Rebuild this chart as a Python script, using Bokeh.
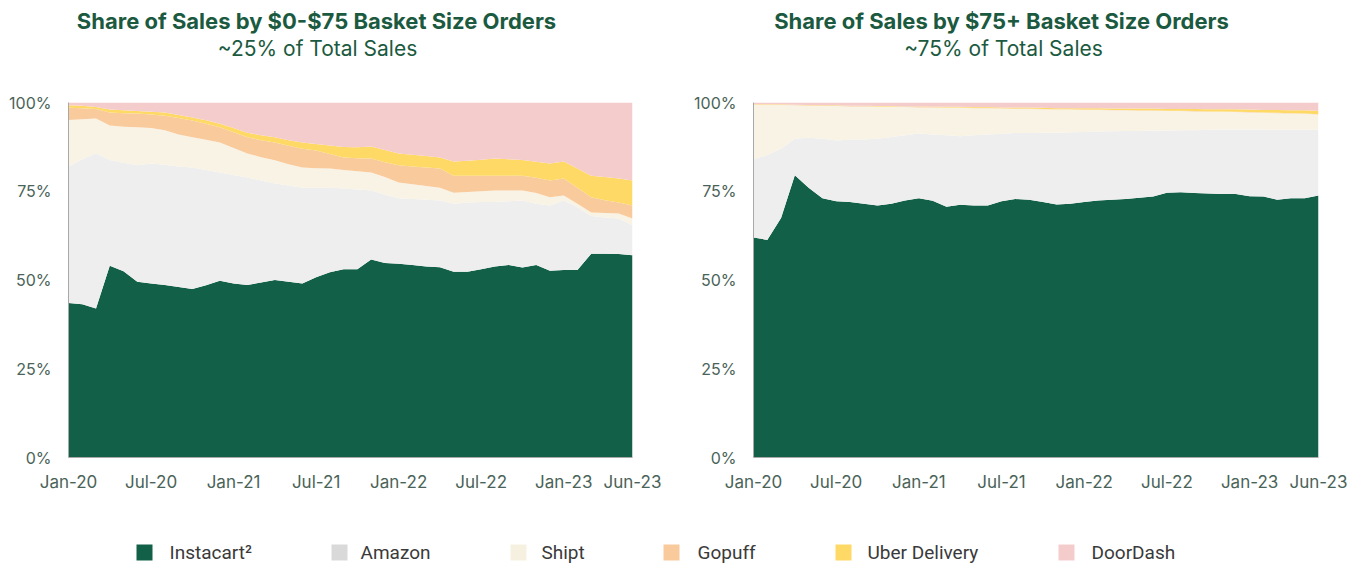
from bokeh.plotting import figure
from bokeh.models import ColumnDataSource, Range1d, FixedTicker
from bokeh.layouts import column, row
from bokeh.embed import file_html
from bokeh.resources import INLINE
from bokeh.core.properties import value

# ---------------- data ----------------
months = ["Jan-20", "Feb-20", "Mar-20", "Apr-20", "May-20", "Jun-20", "Jul-20", "Aug-20", "Sep-20", "Oct-20", "Nov-20", "Dec-20",
          "Jan-21", "Feb-21", "Mar-21", "Apr-21", "May-21", "Jun-21", "Jul-21", "Aug-21", "Sep-21", "Oct-21", "Nov-21", "Dec-21",
          "Jan-22", "Feb-22", "Mar-22", "Apr-22", "May-22", "Jun-22", "Jul-22", "Aug-22", "Sep-22", "Oct-22", "Nov-22", "Dec-22",
          "Jan-23", "Feb-23", "Mar-23", "Apr-23", "May-23", "Jun-23"]
x_tick_labels = ["Jan-20", "Jul-20", "Jan-21", "Jul-21", "Jan-22", "Jul-22", "Jan-23", "Jun-23"]
y_ticks = [0, 25, 50, 75, 100]
y_tick_labels = ["0%", "25%", "50%", "75%", "100%"]

companies = ["Instacart\u00b2", "Amazon", "Shipt", "Gopuff", "Uber Delivery", "DoorDash"]
keys = ["instacart", "amazon", "shipt", "gopuff", "uber", "doordash"]
area_colors = ["#116047", "#EEEEEE", "#F9F3E6", "#F9CB9C", "#FFD966", "#F4CCCC"]
legend_colors = ["#116047", "#D9D9D9", "#F6F0E0", "#F9CB9C", "#FFD966", "#F4CCCC"]

titles = ["Share of Sales by $0-$75 Basket Size Orders", "Share of Sales by $75+ Basket Size Orders"]
subtitles = ["~25% of Total Sales", "~75% of Total Sales"]

# $0-$75 basket size (share of sales, %)
small_instacart = [43.5, 43.2, 42.0, 54.0, 52.5, 49.5, 49.0, 48.6, 48.0, 47.5, 48.5, 49.8, 49.0, 48.6, 49.3, 50.0, 49.5, 49.0, 50.8, 52.2, 53.0,
                   53.0, 55.8, 54.8, 54.6, 54.2, 53.8, 53.6, 52.3, 52.3, 53.0, 53.8, 54.2, 53.5, 54.2, 52.6, 52.8, 52.8, 57.4, 57.4, 57.3, 57.0]
small_amazon = [38.5, 40.8, 43.6, 29.8, 30.5, 32.8, 33.8, 33.9, 34.0, 34.2, 32.5, 30.5, 30.6, 30.3, 28.7, 27.2, 27.1, 27.0, 25.2, 23.8, 22.8,
                22.5, 19.4, 19.2, 18.4, 18.6, 18.8, 18.8, 19.2, 19.5, 19.0, 18.2, 18.0, 18.9, 17.3, 18.4, 19.6, 17.7, 10.6, 10.2, 10.0, 8.4]
small_shipt = [13.1, 11.3, 9.9, 9.7, 10.2, 10.7, 10.0, 9.7, 9.0, 8.5, 8.5, 8.4, 7.6, 6.7, 6.6, 6.5, 6.0, 5.7, 5.5, 5.4, 5.2,
               5.1, 5.1, 5.0, 4.5, 4.2, 3.9, 3.6, 3.1, 3.0, 3.0, 3.2, 3.0, 2.8, 3.0, 2.3, 1.4, 1.0, 1.0, 1.3, 1.4, 1.9]
small_gopuff = [3.4, 3.1, 2.7, 3.7, 3.8, 3.9, 3.8, 4.1, 4.6, 4.7, 4.5, 4.3, 4.4, 4.6, 4.8, 5.0, 5.2, 5.3, 5.0, 4.1, 3.5,
                3.7, 3.9, 4.2, 4.8, 5.0, 5.2, 5.4, 4.8, 4.6, 4.4, 4.2, 4.2, 4.2, 4.3, 4.7, 4.8, 4.5, 4.3, 3.6, 3.1, 3.7]
small_uber = [0.7, 0.7, 0.5, 0.8, 0.8, 0.7, 0.8, 0.9, 0.9, 0.9, 1.0, 1.0, 1.2, 1.3, 1.4, 1.5, 1.6, 1.7, 1.8, 2.4, 3.0,
              3.1, 3.4, 3.4, 3.3, 3.3, 3.2, 3.1, 4.0, 4.2, 4.5, 4.8, 4.6, 4.4, 4.5, 4.8, 4.8, 5.4, 6.1, 6.5, 6.8, 7.0]
small_doordash = [0.8, 0.9, 1.3, 2.0, 2.2, 2.4, 2.6, 2.8, 3.5, 4.2, 5.0, 6.0, 7.2, 8.5, 9.2, 9.8, 10.6, 11.3, 11.7, 12.1, 12.5,
                  12.6, 12.4, 13.4, 14.4, 14.7, 15.1, 15.5, 16.6, 16.4, 16.1, 15.8, 16.0, 16.2, 16.7, 17.2, 16.6, 18.6, 20.6, 21.0, 21.4, 22.0]

# $75+ basket size (share of sales, %)
large_instacart = [62.0, 61.3, 67.5, 79.5, 76.0, 73.0, 72.2, 72.0, 71.5, 71.0, 71.5, 72.4, 73.0, 72.3, 70.6, 71.2, 71.0, 71.0, 72.2, 72.8, 72.6,
                   72.0, 71.3, 71.5, 72.0, 72.4, 72.6, 72.8, 73.2, 73.5, 74.6, 74.7, 74.5, 74.4, 74.2, 74.2, 73.6, 73.5, 72.6, 73.0, 73.0, 73.8]
large_amazon = [22.0, 23.9, 19.5, 10.3, 14.1, 16.8, 17.1, 17.5, 18.1, 18.8, 18.8, 18.4, 18.3, 18.7, 20.2, 19.3, 19.8, 20.0, 19.0, 18.6, 18.8,
                19.5, 20.2, 20.1, 19.7, 19.4, 19.3, 19.2, 18.8, 18.6, 17.5, 17.5, 17.7, 17.9, 18.2, 18.2, 18.8, 18.9, 19.7, 19.3, 19.3, 18.5]
large_shipt = [15.4, 14.2, 12.3, 9.4, 9.0, 9.2, 9.7, 9.4, 9.3, 9.0, 8.5, 7.9, 7.3, 7.6, 7.7, 8.0, 7.6, 7.4, 7.1, 6.8, 6.8,
               6.6, 6.5, 6.4, 6.2, 6.1, 5.9, 5.8, 5.7, 5.6, 5.5, 5.4, 5.3, 5.1, 5.0, 4.9, 4.8, 4.7, 4.7, 4.6, 4.5, 4.3]
large_gopuff = [0.1, 0.1, 0.1, 0.1, 0.1, 0.1, 0.1, 0.1, 0.1, 0.1, 0.1, 0.1, 0.1, 0.1, 0.1, 0.1, 0.1, 0.1, 0.1, 0.1, 0.1,
                0.1, 0.1, 0.1, 0.1, 0.1, 0.1, 0.1, 0.1, 0.1, 0.1, 0.1, 0.1, 0.1, 0.1, 0.1, 0.1, 0.1, 0.1, 0.1, 0.1, 0.1]
large_uber = [0.1, 0.1, 0.1, 0.1, 0.1, 0.1, 0.1, 0.1, 0.1, 0.1, 0.1, 0.1, 0.2, 0.2, 0.2, 0.2, 0.2, 0.2, 0.2, 0.3, 0.3,
              0.3, 0.3, 0.3, 0.4, 0.4, 0.4, 0.4, 0.5, 0.5, 0.5, 0.5, 0.6, 0.6, 0.6, 0.7, 0.7, 0.7, 0.8, 0.8, 0.9, 1.0]
large_doordash = [0.4, 0.4, 0.5, 0.6, 0.7, 0.8, 0.8, 0.9, 0.9, 1.0, 1.0, 1.1, 1.1, 1.1, 1.2, 1.2, 1.3, 1.3, 1.4, 1.4, 1.4,
                  1.5, 1.6, 1.6, 1.6, 1.6, 1.7, 1.7, 1.7, 1.7, 1.8, 1.8, 1.8, 1.9, 1.9, 1.9, 2.0, 2.1, 2.1, 2.2, 2.2, 2.3]

small_series = [small_instacart, small_amazon, small_shipt, small_gopuff, small_uber, small_doordash]
large_series = [large_instacart, large_amazon, large_shipt, large_gopuff, large_uber, large_doordash]

# ---------------- styling ----------------
TITLE_COLOR = "#1B5A40"
TICK_COLOR = "#4A6358"
FONT = "Inter"
TOTAL_W = 1350


def make_chart(series, width, border_left, border_right):
    x_idx = list(range(len(months)))
    data = {"x": x_idx}
    for k, s in zip(keys, series):
        data[k] = s
    src = ColumnDataSource(data)
    p = figure(width=width, height=420, x_range=Range1d(0, len(months) - 1), y_range=Range1d(0, 100),
               output_backend="svg", toolbar_location=None,
               min_border_left=border_left, min_border_right=border_right,
               min_border_top=22, min_border_bottom=43)
    p.varea_stack(stackers=keys, x="x", color=area_colors, source=src)
    p.xgrid.visible = False
    p.ygrid.visible = False
    p.outline_line_color = None
    p.background_fill_color = "white"
    p.border_fill_color = "white"

    tick_pos = [months.index(lbl) for lbl in x_tick_labels]
    p.xaxis.ticker = FixedTicker(ticks=tick_pos)
    p.xaxis.major_label_overrides = {pos: lbl for pos, lbl in zip(tick_pos, x_tick_labels)}
    p.yaxis.ticker = FixedTicker(ticks=y_ticks)
    p.yaxis.major_label_overrides = {t: lbl for t, lbl in zip(y_ticks, y_tick_labels)}
    for ax in (p.xaxis, p.yaxis):
        ax.axis_line_color = "#A8A8A8"
        ax.axis_line_width = 1
        ax.major_tick_line_color = None
        ax.minor_tick_line_color = None
        ax.major_tick_out = 0
        ax.major_tick_in = 0
        ax.major_label_text_font = FONT
        ax.major_label_text_color = TICK_COLOR
    p.xaxis.major_label_text_font_size = "17px"
    p.xaxis.major_label_standoff = 14
    p.yaxis.major_label_text_font_size = "16px"
    p.yaxis.major_label_standoff = 17
    return p


p1 = make_chart(small_series, 680, 68, 48)
p2 = make_chart(large_series, 670, 73, 32)

# header with titles (pixel coordinates, y downward)
header = figure(width=TOTAL_W, height=80, x_range=Range1d(0, TOTAL_W), y_range=Range1d(80, 0),
                output_backend="svg", toolbar_location=None, x_axis_type=None, y_axis_type=None,
                min_border=0)
header.grid.visible = False
header.outline_line_color = None
header.text(x=[316, 1001], y=[20, 20], text=titles, text_font=value(FONT), text_font_style="bold",
            text_font_size="22px", text_color=TITLE_COLOR, text_align="center", text_baseline="middle")
header.text(x=[317, 1003], y=[48, 48], text=subtitles, text_font=value(FONT),
            text_font_size="21px", text_color=TITLE_COLOR, text_align="center", text_baseline="middle")

# legend row
legend = figure(width=TOTAL_W, height=66, x_range=Range1d(0, TOTAL_W), y_range=Range1d(66, 0),
                output_backend="svg", toolbar_location=None, x_axis_type=None, y_axis_type=None,
                min_border=0)
legend.grid.visible = False
legend.outline_line_color = None
sw_x = [144, 339, 518, 671, 843, 1066]
tx_x = [169, 360, 541, 697, 867, 1091]
legend.rect(x=sw_x, y=[52] * 6, width=16, height=16, fill_color=legend_colors, line_color=None)
legend.text(x=tx_x, y=[52] * 6, text=companies, text_font=value("Roboto"), text_font_size="19px",
            text_color="#3A3A3A", text_align="left", text_baseline="middle")

layout = column(header, row(p1, p2), legend)

with open("out.html", "w", encoding="utf-8") as f:
    f.write(file_html(layout, INLINE))
